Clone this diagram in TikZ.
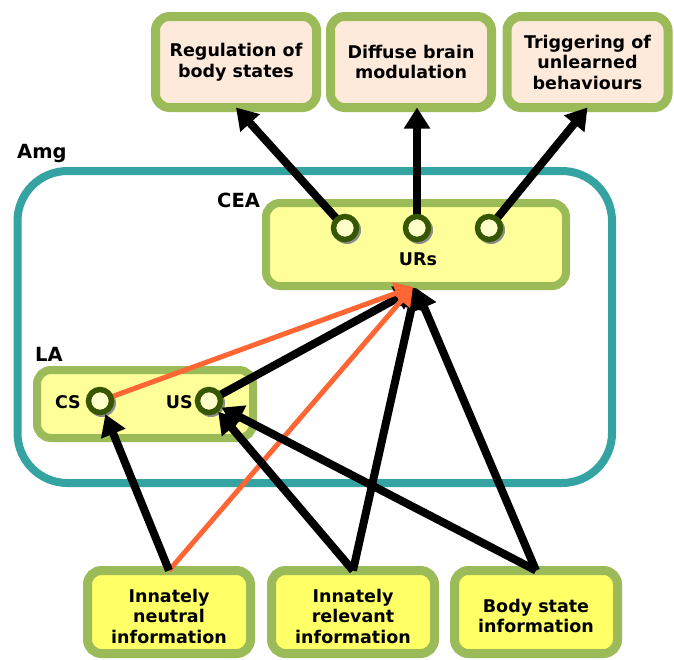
\documentclass[tikz,border=0pt]{standalone}
\usepackage{fontspec}
\setmainfont{DejaVu Sans}
\usetikzlibrary{arrows.meta}

\definecolor{rimgreen}{RGB}{155,187,89}
\definecolor{peach}{RGB}{253,234,218}
\definecolor{paleyellow}{RGB}{255,255,153}
\definecolor{infoyellow}{RGB}{255,255,102}
\definecolor{amgteal}{RGB}{52,163,161}
\definecolor{portgreen}{RGB}{55,86,0}
\definecolor{portfill}{RGB}{255,255,204}
\definecolor{learnorange}{RGB}{255,102,51}
\definecolor{shadowgrey}{RGB}{140,140,140}

\newcommand\boxtextfont{\fontsize{17.5pt}{20.5pt}\selectfont\bfseries}
\newcommand\regionfont{\fontsize{19.5pt}{22pt}\selectfont\bfseries}
% strut that pushes a box's text a little below its centre
\newcommand\lowstrut{\rule{0pt}{21.5pt}}

\begin{document}
\begin{tikzpicture}[x=1pt,y=-1pt,
  outputbox/.style={draw=rimgreen, line width=9pt, rounded corners=14pt, fill=peach,
    minimum width=161pt, minimum height=91pt, align=center, font=\boxtextfont,
    inner sep=0pt, outer sep=0pt},
  inputbox/.style={outputbox, fill=infoyellow, minimum width=163pt, minimum height=83pt},
  nucleus/.style={draw=rimgreen, line width=8pt, rounded corners=14pt, fill=paleyellow,
    inner sep=0pt, outer sep=0pt},
  amgbox/.style={draw=amgteal, line width=8pt, rounded corners=50pt,
    minimum width=594.5pt, minimum height=312pt, inner sep=0pt, outer sep=0pt},
  port/.style={circle, draw=portgreen, line width=5.5pt, fill=portfill,
    minimum size=23pt, inner sep=0pt, outer sep=2.75pt},
  regionlabel/.style={font=\regionfont, inner sep=0pt},
  portlabel/.style={font=\boxtextfont, inner sep=0pt},
  pathway/.style={line width=8pt, -{Triangle[length=21pt,width=25pt]}},
  learned/.style={draw=learnorange, line width=5pt, -{Triangle[length=18pt,width=22pt]}}
]
\useasboundingbox (0,0) rectangle (674,659);

% amygdala outline and its nuclei
\node[amgbox] (amg) at (314.75,327) {};
\node[nucleus, minimum width=300pt, minimum height=83pt] (cea) at (416,244.5) {};
\node[nucleus, minimum width=216pt, minimum height=68pt] (la) at (145,404) {};

\node[regionlabel, anchor=base west] (amglbl) at (17,158) {Amg};
\node[regionlabel, anchor=base west] (cealbl) at (217,207) {CEA};
\node[regionlabel, anchor=base west] (lalbl) at (35,361) {LA};
\node[portlabel, anchor=base] (urlbl) at (418,265) {URs};
\node[portlabel, anchor=base east] (cslbl) at (81,408) {CS};
\node[portlabel, anchor=base east] (uslbl) at (193,408) {US};

% output targets
\node[outputbox] (reg) at (236,62) {Regulation of\\body states};
\node[outputbox] (diff) at (411,62) {Diffuse brain\\modulation};
\node[outputbox] (trig) at (587.5,62) {Triggering of\\unlearned\\behaviours};

% sensory inputs
\node[inputbox] (neu) at (169,612) {\lowstrut Innately\\neutral\\information};
\node[inputbox] (rel) at (353,612) {\lowstrut Innately\\relevant\\information};
\node[inputbox] (body) at (536,612) {\lowstrut Body state\\information};

% port positions
\coordinate (p1) at (345,228);
\coordinate (p2) at (417,228);
\coordinate (p3) at (489,228);
\coordinate (pcs) at (100,401);
\coordinate (pus) at (209,401);
\coordinate (urin) at ([yshift=-2pt]cea.south);
\coordinate (urinl) at ([xshift=-3pt,yshift=-1pt]cea.south);

% outputs of CEA
\draw[pathway] (p1) -- (reg.south);
\draw[pathway] (p2) -- (p2 |- diff.south);
\draw[pathway] (p3) -- (trig.south);

% port shadows and ports
\foreach \p in {p1,p2,p3,pcs,pus}
  \fill[shadowgrey] ([shift={(2,2)}]\p) circle (14pt);
\node[port] (c1) at (p1) {};
\node[port] (c2) at (p2) {};
\node[port] (c3) at (p3) {};

% inputs to LA and CEA
\draw[pathway] (pus) -- (urin);
\draw[pathway] (rel.north) -- (urin);
\draw[pathway] (body.north) -- (urin);
\draw[learned] (neu.north) -- (urinl);
\draw[learned] (pcs) -- (urinl);
\node[port] (cs) at (pcs) {};
\node[port] (us) at (pus) {};
\draw[pathway] (neu.north) -- (cs);
\draw[pathway] (rel.north) -- (us);
\draw[pathway] (body.north) -- (us);
\end{tikzpicture}
\end{document}
